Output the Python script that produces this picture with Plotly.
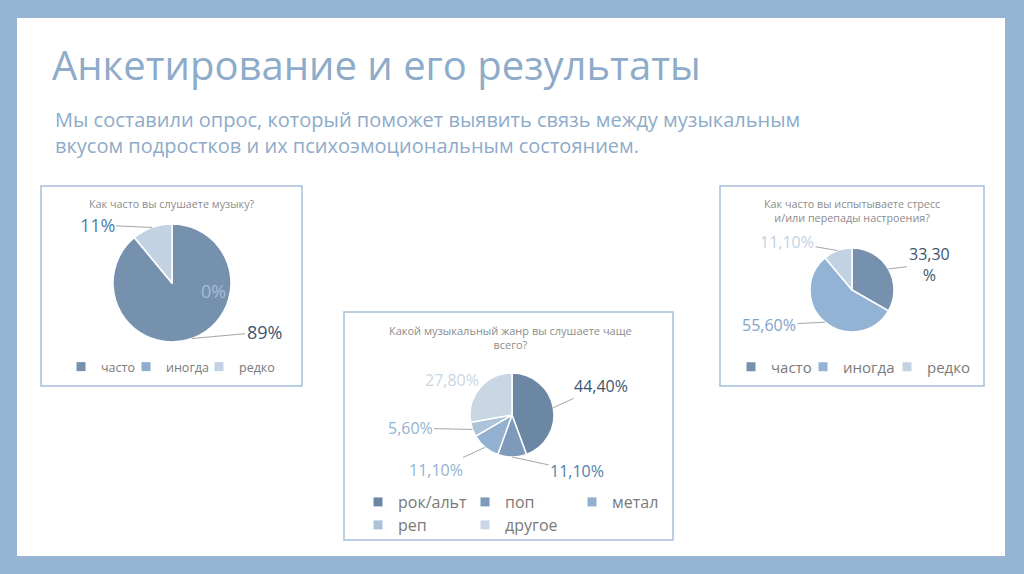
import math
import plotly.graph_objects as go

W, H = 1024, 574

# ---------------- data ----------------
slide_title = "Анкетирование и его результаты"
slide_subtitle = ("Мы составили опрос, который поможет выявить связь между музыкальным<br>"
                  "вкусом подростков и их психоэмоциональным состоянием.")

q1_title = "Как часто вы слушаете музыку?"
q1_labels = ["часто", "иногда", "редко"]
q1_values = [89, 0, 11]

q2_title = "Какой музыкальный жанр вы слушаете чаще<br>всего?"
q2_labels = ["рок/альт", "поп", "метал", "реп", "другое"]
q2_values = [44.4, 11.1, 11.1, 5.6, 27.8]

q3_title = "Как часто вы испытываете стресс<br>и/или перепады настроения?"
q3_labels = ["часто", "иногда", "редко"]
q3_values = [33.3, 55.6, 11.1]

# ---------------- styles ----------------
FONT = "Open Sans"
BORDER_BG = "#95b5d2"
TITLE_COLOR = "#8eabc9"
BOX_LINE = "#a7c0d9"
CHART_TITLE_COLOR = "#8c8c8c"
LEGEND_COLOR = "#7a7a7a"
LEADER = "#a6a6a6"

q1_colors = ["#7591ad", "#8eaecf", "#c3d2e2"]
q2_colors = ["#6b87a3", "#7d9aba", "#92b1d1", "#adc3da", "#c9d6e4"]
q3_colors = ["#7591ad", "#93b3d4", "#c3d2e2"]

q1_label_colors = ["#3d5570", "#a6bdd6", "#4f7fae"]
q2_label_colors = ["#3d5570", "#4f7fae", "#93b3d2", "#93b3d2", "#c9d6e4"]
q3_label_colors = ["#3d5570", "#7ea3c9", "#c3d2e2"]

# pie geometry (center px, radius px)
pie1_geo = (172, 283, 59)
pie2_geo = (512, 415, 42)
pie3_geo = (852, 290, 42)

# label text centres (px) and whether a leader line is drawn
q1_label_pos = [(264, 332), (199, 291), (97, 225)]
q1_leader = [True, False, True]
q2_label_pos = [(601, 386), (577, 471), (436, 470), (410, 428), (452, 380)]
q2_leader = [True, True, True, True, False]
q3_label_pos = [(929, 264), (769, 325), (787, 242)]
q3_leader = [True, True, True]

# legend entry widths (px)
q1_legend_widths = [20, 28, 45]
q2_legend_widths = [62, 62, 70, 62, 70]
q3_legend_widths = [27, 39, 50]


def fx(px):
    return px / W


def fy(py):
    return 1 - py / H


def domain(geo):
    cx, cy, r = geo
    return dict(x=[fx(cx - r), fx(cx + r)], y=[fy(cy + r), fy(cy - r)])


def slice_anchors(values, geo):
    cx, cy, r = geo
    tot = float(sum(values))
    cum = 0.0
    pts = []
    for v in values:
        mid = (cum + v / 2.0) / tot * 2 * math.pi
        pts.append((cx + r * math.sin(mid), cy - r * math.cos(mid)))
        cum += v
    return pts


def fmt_int(v):
    return f"{v:.0f}%"


def fmt_dec(v):
    return f"{v:.2f}".replace(".", ",") + "%"


fig = go.Figure()

pie_common = dict(sort=False, direction="clockwise", rotation=0,
                  textinfo="none", hoverinfo="label+percent", showlegend=False)

for vals, labs, cols, geo in [(q1_values, q1_labels, q1_colors, pie1_geo),
                              (q2_values, q2_labels, q2_colors, pie2_geo),
                              (q3_values, q3_labels, q3_colors, pie3_geo)]:
    fig.add_trace(go.Pie(labels=labs, values=vals, domain=domain(geo),
                         marker=dict(colors=cols, line=dict(color="white", width=1.5)),
                         **pie_common))


def add_legend_entries(labels, colors, widths, legend_ids):
    for lab, col, w, lid in zip(labels, colors, widths, legend_ids):
        fig.add_trace(go.Scatter(x=[None], y=[None], mode="markers", name=lab,
                                 marker=dict(symbol="square", size=9, color=col),
                                 legend=lid, legendwidth=w, hoverinfo="skip"))


add_legend_entries(q1_labels, q1_colors, q1_legend_widths, ["legend"] * 3)
add_legend_entries(q2_labels, q2_colors, q2_legend_widths,
                   ["legend2"] * 3 + ["legend3"] * 2)
add_legend_entries(q3_labels, q3_colors, q3_legend_widths, ["legend4"] * 3)

annotations = []
annotations.append(dict(text=slide_title, x=fx(50), y=fy(65), xref="paper", yref="paper",
                        xanchor="left", yanchor="middle", showarrow=False,
                        font=dict(family=FONT, size=40, color=TITLE_COLOR)))
annotations.append(dict(text=slide_subtitle, x=fx(53), y=fy(132), xref="paper", yref="paper",
                        xanchor="left", yanchor="middle", showarrow=False, align="left",
                        font=dict(family=FONT, size=20, color=TITLE_COLOR)))
for txt, (px, py), size in [(q1_title, (172, 203), 10.8),
                            (q2_title, (510, 337), 11),
                            (q3_title, (852, 210), 10.8)]:
    annotations.append(dict(text=txt, x=fx(px), y=fy(py), xref="paper", yref="paper",
                            xanchor="center", yanchor="middle", showarrow=False,
                            font=dict(family=FONT, size=size, color=CHART_TITLE_COLOR)))


def add_labels(values, geo, pos, leader, colors, fmt, size, wrap=None):
    anchors = slice_anchors(values, geo)
    for i, v in enumerate(values):
        ax_, ay_ = anchors[i]
        lx, ly = pos[i]
        txt = fmt(v)
        if wrap and i in wrap:
            txt = txt[:-1] + "<br>%"
        if leader[i]:
            annotations.append(dict(text=txt, x=fx(ax_), y=fy(ay_), xref="paper", yref="paper",
                                    ax=lx - ax_, ay=ly - ay_, showarrow=True, arrowhead=0,
                                    arrowwidth=1, arrowcolor=LEADER, standoff=0,
                                    font=dict(family=FONT, size=size, color=colors[i])))
        else:
            annotations.append(dict(text=txt, x=fx(lx), y=fy(ly), xref="paper", yref="paper",
                                    showarrow=False,
                                    font=dict(family=FONT, size=size, color=colors[i])))


add_labels(q1_values, pie1_geo, q1_label_pos, q1_leader, q1_label_colors, fmt_int, 18)
add_labels(q2_values, pie2_geo, q2_label_pos, q2_leader, q2_label_colors, fmt_dec, 16)
add_labels(q3_values, pie3_geo, q3_label_pos, q3_leader, q3_label_colors, fmt_dec, 16, wrap={0})

shapes = [
    dict(type="rect", xref="paper", yref="paper", x0=fx(17), x1=fx(1005), y0=fy(556), y1=fy(18),
         fillcolor="white", line=dict(width=0), layer="below"),
]
for (x0, y0, x1, y1) in [(41, 186, 302, 386), (344, 312, 673, 540), (720, 186, 984, 386)]:
    shapes.append(dict(type="rect", xref="paper", yref="paper", x0=fx(x0), x1=fx(x1),
                       y0=fy(y1), y1=fy(y0), line=dict(color=BOX_LINE, width=1.5),
                       fillcolor="rgba(0,0,0,0)", layer="below"))

legend_common = dict(orientation="h", xanchor="left", yanchor="middle",
                     bgcolor="rgba(0,0,0,0)", borderwidth=0, entrywidthmode="pixels")

fig.update_layout(
    width=W, height=H,
    margin=dict(l=0, r=0, t=0, b=0),
    paper_bgcolor=BORDER_BG,
    plot_bgcolor="rgba(0,0,0,0)",
    xaxis=dict(visible=False), yaxis=dict(visible=False),
    shapes=shapes,
    annotations=annotations,
    legend=dict(x=fx(61), y=fy(367),
                font=dict(family=FONT, size=12.5, color=LEGEND_COLOR), **legend_common),
    legend2=dict(x=fx(358), y=fy(502),
                 font=dict(family=FONT, size=16, color=LEGEND_COLOR), **legend_common),
    legend3=dict(x=fx(358), y=fy(525),
                 font=dict(family=FONT, size=16, color=LEGEND_COLOR), **legend_common),
    legend4=dict(x=fx(731), y=fy(367),
                 font=dict(family=FONT, size=15, color=LEGEND_COLOR), **legend_common),
)

fig.write_html("out.html",
               config={"displayModeBar": False},
               post_script="document.body.style.margin='0px';"
                           "document.body.style.overflow='hidden';")
